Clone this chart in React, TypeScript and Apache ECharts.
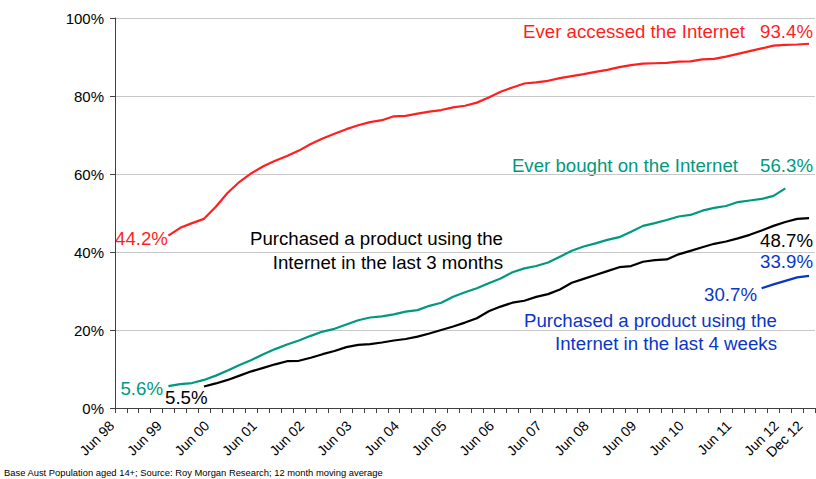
import React, { useEffect, useRef } from "react";
import * as echarts from "echarts";

// Quarterly categories, Jun 98 .. Dec 12
const years = ["98","99","00","01","02","03","04","05","06","07","08","09","10","11","12"];
const quarterMonths = ["Mar", "Jun", "Sep", "Dec"];
const categories: string[] = [];
years.forEach((y) => quarterMonths.forEach((m) => categories.push(`${m} ${y}`)));
const cats = categories.slice(1, categories.length); // start at Jun 98, end Dec 12

// Ever accessed the Internet (starts Jun 99)
const everAccessed = [
  44.2, 46.2, 47.4, 48.5, 51.6, 55.2, 58.0, 60.2, 62.0, 63.4,
  64.6, 66.0, 67.7, 69.1, 70.3, 71.5, 72.5, 73.3, 73.8, 74.8,
  74.9, 75.5, 76.0, 76.4, 77.1, 77.5, 78.3, 79.6, 81.1, 82.2,
  83.2, 83.5, 83.9, 84.6, 85.1, 85.6, 86.2, 86.7, 87.4, 87.9,
  88.3, 88.4, 88.5, 88.8, 88.9, 89.4, 89.5, 90.1, 90.8, 91.5,
  92.2, 92.9, 93.1, 93.2, 93.4,
];
// Ever bought on the Internet (Jun 99 .. Jun 12)
const everBought = [
  5.6, 6.1, 6.4, 7.2, 8.3, 9.6, 11.0, 12.3, 13.8, 15.1,
  16.3, 17.3, 18.5, 19.6, 20.3, 21.4, 22.5, 23.2, 23.5, 24.0,
  24.7, 25.1, 26.2, 27.0, 28.5, 29.7, 30.7, 32.0, 33.2, 34.8,
  35.8, 36.4, 37.3, 38.8, 40.3, 41.4, 42.2, 43.1, 43.8, 45.2,
  46.7, 47.4, 48.2, 49.1, 49.5, 50.6, 51.3, 51.8, 52.8, 53.2,
  53.6, 54.4, 56.3,
];
// Purchased in last 3 months (Mar 00 .. Dec 12)
const purchased3m = [
  5.5, 6.3, 7.2, 8.3, 9.4, 10.3, 11.2, 12.0, 12.1, 12.9,
  13.8, 14.6, 15.6, 16.2, 16.4, 16.8, 17.3, 17.7, 18.3, 19.1,
  20.0, 20.9, 21.9, 23.0, 24.8, 26.0, 27.0, 27.5, 28.5, 29.2,
  30.4, 32.1, 33.1, 34.1, 35.1, 36.1, 36.4, 37.5, 37.9, 38.1,
  39.4, 40.3, 41.2, 42.1, 42.7, 43.5, 44.4, 45.5, 46.7, 47.7,
  48.5, 48.7,
];
// Purchased in last 4 weeks (Dec 11 .. Dec 12)
const purchased4w = [30.7, 31.7, 32.6, 33.5, 33.9];

const padTo = (start: number, vals: number[]) => {
  const out: (number | null)[] = [];
  for (let i = 0; i < start; i++) out.push(null);
  vals.forEach((v) => out.push(v));
  while (out.length < cats.length) out.push(null);
  return out;
};

const RED = "#FF1F1F";
const TEAL = "#00997F";
const BLACK = "#000000";
const BLUE = "#0A36C8";
const FONT = '"Liberation Sans", Arial, sans-serif';
const ANN = 18.67;

export default function App() {
  const ref = useRef<HTMLDivElement>(null);
  useEffect(() => {
    if (!ref.current) return;
    const chart = echarts.init(ref.current, null, { renderer: "svg" });
    const txt = (text: string, x: number, y: number, fill: string, align = "left", size = ANN) => ({
      type: "text",
      x,
      y,
      silent: true,
      style: { text, fill, font: `${size}px ${FONT}`, align, verticalAlign: "middle" },
    });
    const lastIdx = cats.length - 1;
    chart.setOption({
      animation: false,
      backgroundColor: "#ffffff",
      grid: { left: 115, right: 1, top: 18, bottom: 71, containLabel: false },
      xAxis: {
        type: "category",
        data: cats,
        boundaryGap: true,
        axisLine: { lineStyle: { color: "#404040", width: 1 } },
        axisTick: { show: true, interval: 0, length: 5, lineStyle: { color: "#404040" } },
        axisLabel: {
          interval: (i: number) => i % 4 === 0 || i === lastIdx,
          rotate: 45,
          fontSize: 14,
          fontFamily: FONT,
          color: "#000",
          margin: 6,
          padding: [0, 13, 0, 0],
        },
        splitLine: { show: false },
      },
      yAxis: {
        type: "value",
        min: 0,
        max: 100,
        interval: 20,
        axisLine: { show: true, lineStyle: { color: "#404040", width: 1 } },
        axisTick: { show: true, length: 5, lineStyle: { color: "#404040" } },
        axisLabel: { formatter: "{value}%", fontSize: 15, fontFamily: FONT, color: "#000", margin: 11 },
        splitLine: { show: true, lineStyle: { color: "#C8C8C8", width: 1 } },
      },
      series: [
        { name: "Ever accessed the Internet", type: "line", data: padTo(4, everAccessed), showSymbol: false, symbol: "none", lineStyle: { color: RED, width: 2.2 }, itemStyle: { color: RED } },
        { name: "Ever bought on the Internet", type: "line", data: padTo(4, everBought), showSymbol: false, symbol: "none", lineStyle: { color: TEAL, width: 2.2 }, itemStyle: { color: TEAL } },
        { name: "Purchased 3 months", type: "line", data: padTo(7, purchased3m), showSymbol: false, symbol: "none", lineStyle: { color: BLACK, width: 2.2 }, itemStyle: { color: BLACK } },
        { name: "Purchased 4 weeks", type: "line", data: padTo(54, purchased4w), showSymbol: false, symbol: "none", lineStyle: { color: BLUE, width: 2.2 }, itemStyle: { color: BLUE } },
      ],
      graphic: [
        txt("Ever accessed the Internet", 745, 31, RED, "right"),
        txt("93.4%", 813, 31, RED, "right"),
        txt("44.2%", 115, 238, RED, "left"),
        txt("Ever bought on the Internet", 738, 165, TEAL, "right"),
        txt("56.3%", 813, 165, TEAL, "right"),
        txt("5.6%", 163, 388, TEAL, "right"),
        txt("5.5%", 165, 397, BLACK, "left"),
        txt("Purchased a product using the", 503, 238, BLACK, "right"),
        txt("Internet in the last 3 months", 503, 262, BLACK, "right"),
        txt("48.7%", 813, 240, BLACK, "right"),
        txt("33.9%", 813, 261, BLUE, "right"),
        txt("30.7%", 757, 294, BLUE, "right"),
        txt("Purchased a product using the", 777, 320, BLUE, "right"),
        txt("Internet in the last 4 weeks", 777, 343, BLUE, "right"),
        {
          type: "text",
          x: 4,
          y: 472,
          silent: true,
          style: {
            text: "Base Aust Population aged 14+; Source: Roy Morgan Research; 12 month moving average",
            fill: "#000",
            font: `9.4px ${FONT}`,
            align: "left",
            verticalAlign: "middle",
          },
        },
      ],
    });
    return () => chart.dispose();
  }, []);
  return (
    <div
      ref={ref}
      style={{ position: "fixed", left: 0, top: 0, width: 816, height: 479, background: "#fff" }}
    />
  );
}
